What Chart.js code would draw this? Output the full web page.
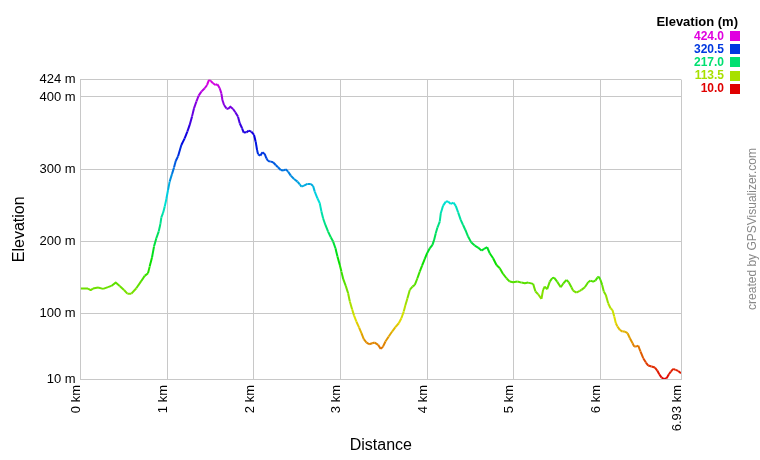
<!DOCTYPE html>
<html>
<head>
<meta charset="utf-8">
<script src="https://cdn.jsdelivr.net/npm/chart.js@4/dist/chart.umd.min.js"></script>
<style>
  html, body { margin: 0; padding: 0; background: #fff; }
  canvas { display: block; }
</style>
</head>
<body>
<canvas id="canvas" width="760" height="460"></canvas>
<script>
// profile: distance (km) and elevation (m)
const distKm = [
  0, 0.084, 0.115, 0.142, 0.2, 0.258, 0.315, 0.354, 0.404, 0.45, 0.5, 0.539, 0.585, 0.642, 0.7, 0.739, 0.777, 0.796, 0.823, 0.846,
  0.873, 0.9, 0.92, 0.931, 0.95, 0.97, 0.989, 1.008, 1.027, 1.054, 1.077, 1.097, 1.124, 1.162, 1.2, 1.231, 1.258, 1.285, 1.308, 1.335,
  1.362, 1.393, 1.432, 1.459, 1.482, 1.501, 1.528, 1.555, 1.578, 1.605, 1.624, 1.636, 1.655, 1.682, 1.701, 1.728, 1.759, 1.785, 1.816, 1.836,
  1.863, 1.882, 1.913, 1.94, 1.97, 2.001, 2.02, 2.036, 2.048, 2.074, 2.098, 2.124, 2.144, 2.163, 2.194, 2.221, 2.251, 2.278, 2.309, 2.336,
  2.367, 2.394, 2.425, 2.463, 2.502, 2.528, 2.548, 2.578, 2.617, 2.656, 2.683, 2.702, 2.733, 2.76, 2.779, 2.798, 2.825, 2.856, 2.887, 2.914,
  2.941, 2.964, 2.991, 3.01, 3.03, 3.06, 3.087, 3.107, 3.133, 3.156, 3.183, 3.214, 3.241, 3.268, 3.3, 3.33, 3.365, 3.394, 3.434, 3.464,
  3.49, 3.518, 3.556, 3.595, 3.633, 3.672, 3.702, 3.729, 3.749, 3.772, 3.799, 3.83, 3.857, 3.887, 3.914, 3.941, 3.972, 3.999, 4.03, 4.061,
  4.08, 4.099, 4.118, 4.145, 4.157, 4.184, 4.215, 4.242, 4.272, 4.303, 4.33, 4.357, 4.387, 4.414, 4.441, 4.472, 4.51, 4.549, 4.587, 4.626,
  4.657, 4.692, 4.722, 4.761, 4.8, 4.838, 4.876, 4.915, 4.953, 4.992, 5.042, 5.088, 5.127, 5.165, 5.223, 5.25, 5.281, 5.319, 5.338, 5.358,
  5.385, 5.415, 5.442, 5.465, 5.5, 5.542, 5.573, 5.608, 5.634, 5.665, 5.684, 5.723, 5.761, 5.781, 5.82, 5.858, 5.885, 5.915, 5.942, 5.965,
  5.981, 6.0, 6.02, 6.039, 6.062, 6.089, 6.116, 6.139, 6.159, 6.178, 6.197, 6.224, 6.255, 6.282, 6.313, 6.34, 6.371, 6.39, 6.409, 6.436,
  6.463, 6.494, 6.525, 6.552, 6.59, 6.629, 6.656, 6.679, 6.706, 6.736, 6.764, 6.79, 6.813, 6.84, 6.867, 6.898, 6.93
]
const elevM = [
  135, 135, 133, 135, 136.4, 134.6, 137, 138.7, 143.3, 138.7, 133, 128, 128, 135.5, 145.6, 152.6, 156.2, 165.4, 177.9, 193.1,
  204.6, 213.8, 224.4, 233.6, 239.2, 248.4, 259, 271.4, 282.9, 293.5, 302.3, 311.5, 318, 333.6, 342.8, 352, 361.3, 372.8, 384.3, 393.5,
  401.8, 407.4, 412, 416.6, 424, 422, 418.9, 416.6, 417.5, 412, 405, 395.8, 388.9, 384.3, 383.4, 386.6, 383.4, 378.8, 372.8, 363.6,
  356.7, 350.7, 351.1, 353.4, 352, 347.5, 338.2, 326.7, 320.7, 318.9, 323.5, 321.2, 315.2, 311.5, 310.6, 309.7, 306, 302.8, 299.1, 298.2,
  300, 296.8, 291.2, 286.6, 282.9, 279.3, 276, 277.4, 279.7, 279.7, 277, 269.1, 259.9, 253, 241.5, 232.3, 223, 213.8, 206, 200,
  190.8, 179.3, 167.7, 158.5, 148.4, 138.7, 128.6, 117.1, 106.5, 97.7, 89.4, 81.1, 73.3, 65, 60.4, 58.1, 59.5, 60.4, 57.2, 51.6,
  54.8, 61.8, 68.7, 75.6, 81.6, 87.1, 94, 103.2, 112.4, 121.7, 133.2, 137.8, 140.1, 149.3, 158.5, 166.8, 176, 183.9, 190.8, 195.4,
  202.3, 211.5, 219.4, 227.6, 239.2, 249.8, 255.3, 255.3, 252.1, 253.9, 249.3, 240.5, 230, 223, 216.1, 206.9, 198.6, 194.5, 191.7, 187.6,
  189.9, 192.2, 183.9, 177, 167.7, 163.1, 155.3, 149.3, 144.7, 143.8, 144.7, 143.3, 142.4, 143.3, 141.5, 130.9, 127.2, 120.7, 133.2, 137.8,
  134.1, 144.7, 149.3, 150.2, 144.7, 136.9, 142.4, 147, 143.8, 136.9, 132.3, 129.5, 131.8, 133.2, 136.9, 143.8, 146.1, 144.7, 146.1, 150.2,
  151.6, 147, 140.1, 130.9, 126.3, 114.8, 107.8, 105.5, 96.3, 87.1, 82.5, 77.9, 75.6, 75.6, 73.3, 66.4, 59.5, 54.8, 54.8, 56.2,
  47.9, 38.7, 32.7, 28.6, 27.2, 25.8, 21.7, 16.6, 12, 10, 11.1, 16.6, 20.3, 24, 22.6, 21.2, 18
]

const xTicks = [0, 1, 2, 3, 4, 5, 6, 6.93]
const yTicks = [10, 100, 200, 300, 400, 424]
const legendValues = [424.0, 320.5, 217.0, 113.5, 10.0]

const minElev = 10
const maxElev = 424
const font = 'Arial, "Liberation Sans", sans-serif'

// red at the lowest point, magenta at the highest
function colorFor(v) {
  const hue = 300 * (v - minElev) / (maxElev - minElev)
  return 'hsl(' + hue + ', 100%, 44%)'
}

const overlay = {
  id: 'overlay',
  afterDraw(chart) {
    const ctx = chart.ctx
    ctx.save()
    ctx.textAlign = 'right'
    ctx.textBaseline = 'middle'
    ctx.font = 'bold 13px ' + font
    ctx.fillStyle = '#000'
    ctx.fillText('Elevation (m)', 738, 22)
    ctx.font = 'bold 12px ' + font
    legendValues.forEach((v, i) => {
      const y = 36.2 + i * 13.1
      ctx.fillStyle = colorFor(v)
      ctx.fillText(v.toFixed(1), 724, y)
      ctx.fillRect(730, Math.round(y - 5), 10, 10)
    })
    ctx.translate(753, 229)
    ctx.rotate(-Math.PI / 2)
    ctx.textAlign = 'center'
    ctx.font = '12px ' + font
    ctx.fillStyle = '#888'
    ctx.fillText('created by GPSVisualizer.com', 0, 0)
    ctx.restore()
  }
}

const points = distKm.map((d, i) => ({ x: d, y: elevM[i] }))

const config = {
  type: 'line',
  data: {
    datasets: [{
      label: 'Elevation',
      data: points,
      borderWidth: 2,
      pointRadius: 0,
      tension: 0,
      fill: false,
      borderJoinStyle: 'round',
      segment: {
        borderColor: c => colorFor((c.p0.parsed.y + c.p1.parsed.y) / 2),
      },
    }],
  },
  options: {
    responsive: false,
    animation: false,
    events: [],
    layout: { padding: { top: 79.6, right: 79, bottom: 0, left: 0 } },
    plugins: { legend: { display: false }, tooltip: { enabled: false } },
    scales: {
      x: {
        type: 'linear',
        min: 0,
        max: 6.93,
        afterBuildTicks: s => { s.ticks = xTicks.map(v => ({ value: v })) },
        afterFit: s => { s.height = 81 },
        grid: { color: '#c8c8c8', drawTicks: false },
        border: { color: '#c8c8c8' },
        ticks: {
          autoSkip: false,
          maxRotation: 90,
          minRotation: 90,
          padding: 6,
          labelOffset: -4,
          color: '#000',
          font: { family: font, size: 13 },
          callback: v => v + ' km',
        },
        title: { display: true, text: 'Distance', color: '#000', font: { family: font, size: 16 }, padding: { bottom: 5 } },
      },
      y: {
        min: minElev,
        max: maxElev,
        afterBuildTicks: s => { s.ticks = yTicks.map(v => ({ value: v })) },
        afterFit: s => { s.width = 80.7 },
        grid: { color: '#c8c8c8', drawTicks: false },
        border: { color: '#c8c8c8' },
        ticks: {
          padding: 5,
          color: '#000',
          font: { family: font, size: 13 },
          callback: v => v + ' m',
        },
        title: { display: true, text: 'Elevation', color: '#000', font: { family: font, size: 16 }, padding: { top: 10 } },
      },
    },
  },
  plugins: [overlay],
}

const canvas = document.getElementById('canvas')
const chart = new Chart(canvas, config)
</script>
</body>
</html>
